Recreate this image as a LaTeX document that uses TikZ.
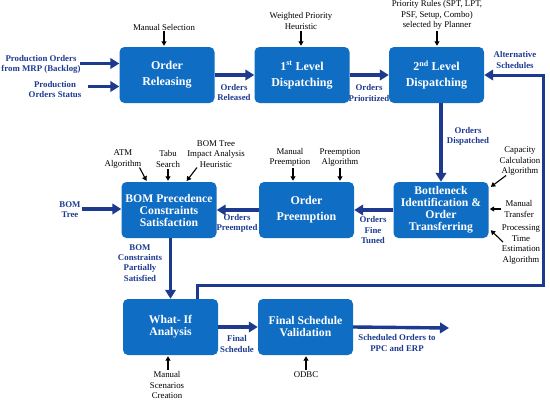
\documentclass[tikz,border=0pt]{standalone}
\usepackage{fontspec}
\setmainfont{Liberation Serif}
\usetikzlibrary{arrows.meta,calc}
\definecolor{boxblue}{HTML}{0F6EC4}
\definecolor{navy}{HTML}{1D3A8F}
\tikzset{
 box/.style={fill=boxblue, rounded corners=5pt, minimum width=95pt, minimum height=56pt, inner sep=0pt, align=center, text=white, font=\fontsize{12}{16}\selectfont\bfseries},
 tbox/.style={box, font=\fontsize{11.7}{12}\selectfont\bfseries},
 lbl/.style={align=center, inner sep=0pt, font=\fontsize{8.8}{10.5}\selectfont},
 blbl/.style={align=center, inner sep=0pt, text=navy, font=\fontsize{8.8}{10.2}\selectfont\bfseries},
 flow/.style={draw=navy, line width=3.4pt, -{Triangle[length=9pt,width=10.5pt]}},
 inarr/.style={draw=black, line width=1.1pt, -{Triangle[length=4.5pt,width=5pt]}, shorten >=1pt},
}
\begin{document}
\begin{tikzpicture}[x=1pt,y=-1pt]
\useasboundingbox (0,0) rectangle (550,402);
% boxes
\node[box] (rel) at (167,75) {Order\\Releasing};
\node[box] (d1) at (302,75) {1\textsuperscript{st} Level\\Dispatching};
\node[box] (d2) at (436.5,75) {2\textsuperscript{nd} Level\\Dispatching};
\node[tbox] (bom) at (169,210) {BOM Precedence\\Constraints\\Satisfaction};
\node[box] (pre) at (306.5,210) {Order\\Preemption};
\node[tbox] (bn) at (441,210) {Bottleneck\\Identification \&\\Order\\Transferring};
\node[tbox] (wi) at (170.5,327) {What- If\\Analysis};
\node[tbox] (fv) at (305.5,327) {Final Schedule\\Validation};
% black labels
\node[lbl] (sel) at (164,27) {Manual Selection};
\node[lbl] (wph) at (301,21) {Weighted Priority\\Heuristic};
\node[lbl] (prr) at (437,15) {Priority Rules (SPT, LPT,\\PSF, Setup, Combo)\\selected by Planner};
\node[lbl] (atm) at (123,159) {ATM\\Algorithm};
\node[lbl] (tabu) at (168,159) {Tabu\\Search};
\node[lbl] (bti) at (216,154) {BOM Tree\\Impact Analysis\\Heuristic};
\node[lbl] (mp) at (290,157.5) {Manual\\Preemption};
\node[lbl] (pa) at (340,157.5) {Preemption\\Algorithm};
\node[lbl] (cca) at (520,161.5) {Capacity\\Calculation\\Algorithm};
\node[lbl] (mt) at (519,209) {Manual\\Transfer};
\node[lbl] (pte) at (521,244.5) {Processing\\Time\\Estimation\\Algorithm};
\node[lbl] (msc) at (167,385) {Manual\\Scenarios\\Creation};
\node[lbl] (odbc) at (306,375) {ODBC};
% blue labels
\node[blbl] (po1) at (41,64.5) {Production Orders\\from MRP (Backlog)};
\node[blbl] (po2) at (55,89.5) {Production\\Orders Status};
\node[blbl] (orel) at (234,92.5) {Orders\\Released};
\node[blbl] (opri) at (369,93) {Orders\\Prioritized};
\node[blbl] (odis) at (468,136) {Orders\\Dispatched};
\node[blbl] (oft) at (373,230) {Orders\\Fine\\Tuned};
\node[blbl] (opre) at (237,223.5) {Orders\\Preempted};
\node[blbl] (bomt) at (70,210) {BOM\\Tree};
\node[blbl] (bcps) at (140,263) {BOM\\Constraints\\Partially\\Satisfied};
\node[blbl] (fsch) at (237,344) {Final\\Schedule};
\node[blbl] (sout) at (397,343) {Scheduled Orders to\\PPC and ERP};
\node[blbl] (alt) at (515,60) {Alternative\\Schedules};
% coordinates
\coordinate (p1s) at (80,63.5);
\coordinate (p2s) at (88,86.5);
\coordinate (bts) at (82,209);
\coordinate (fbc) at (543,285);
\coordinate (out) at (449,328);
\coordinate (a1) at (139.5,167.5);
\coordinate (a3) at (197,167.5);
\coordinate (c1) at (506,175.5);
\coordinate (c1e) at (490,187.5);
\coordinate (c3) at (503,242);
\coordinate (c3e) at (490,229.5);
% navy flows
\draw[flow] (p1s) -- (p1s -| rel.west);
\draw[flow] (p2s) -- (p2s -| rel.west);
\draw[flow] (rel.east) -- (d1.west);
\draw[flow] (d1.east) -- (d2.west);
\draw[flow] (d2.south -| bn.north) -- (bn.north);
\draw[flow] (bn.west) -- (pre.east);
\draw[flow] (pre.west) -- (bom.east);
\draw[flow] (bts) -- (bts -| bom.west);
\draw[flow] (bom.south -| wi.north) -- (wi.north);
\draw[flow] (wi.east |- fv.west) -- (fv.west);
\draw[flow] (fv.east) -- (out);
\draw[flow, line width=3pt] ([xshift=26.5pt]wi.north) |- (fbc) |- (d2.east);
% black input arrows
\draw[inarr] ([yshift=-1pt]sel.south) -- (sel.south |- rel.north);
\draw[inarr] ([yshift=-1pt]wph.south) -- (wph.south |- d1.north);
\draw[inarr] ([yshift=-1pt]prr.south) -- (prr.south |- d2.north);
\draw[inarr] (a1) -- ([xshift=-22pt]bom.north);
\draw[inarr] ([yshift=-1.5pt]tabu.south) -- (tabu.south |- bom.north);
\draw[inarr] (a3) -- ([xshift=17pt]bom.north);
\draw[inarr] ([yshift=-1.5pt,xshift=3pt]mp.south) -- ([xshift=3pt]mp.south |- pre.north);
\draw[inarr] ([yshift=-1.5pt]pa.south) -- (pa.south |- pre.north);
\draw[inarr] (c1) -- (c1e);
\draw[inarr] ([xshift=-3pt]mt.west) -- (mt.west -| bn.east);
\draw[inarr] (c3) -- (c3e);
\draw[inarr] ([yshift=1.5pt,xshift=1pt]msc.north) -- ([xshift=1pt]msc.north |- wi.south);
\draw[inarr] ([yshift=1.5pt]odbc.north) -- (odbc.north |- fv.south);
\end{tikzpicture}
\end{document}
